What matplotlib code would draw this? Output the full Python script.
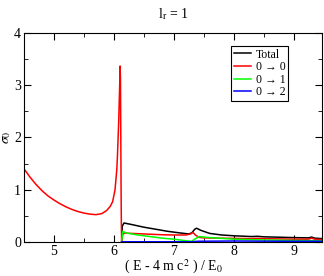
import matplotlib
matplotlib.use("Agg")
import matplotlib.pyplot as plt
from matplotlib.ticker import MultipleLocator

plt.rcParams['font.family'] = ['Liberation Serif', 'DejaVu Serif']
plt.rcParams['mathtext.fontset'] = 'stix'

# 0 -> 0 channel (with resonance below threshold)
red_x = [4.5, 4.6, 4.7, 4.8, 4.9, 5.0, 5.1, 5.2, 5.3, 5.4, 5.5, 5.6, 5.7, 5.8,
         5.88, 5.94, 5.98, 6.02, 6.05, 6.06, 6.08, 6.095, 6.105, 6.11, 6.115,
         6.12, 6.125, 6.13, 6.14, 6.16, 6.2, 6.4, 6.6, 6.8, 7.0, 7.2, 7.28,
         7.32, 7.36, 7.42, 7.5, 7.7, 8.0, 8.3, 8.4, 8.5, 9.0, 9.25, 9.3, 9.35, 9.48]
red_y = [1.40, 1.24, 1.10, 0.98, 0.88, 0.80, 0.73, 0.67, 0.62, 0.58, 0.55, 0.53,
         0.52, 0.54, 0.60, 0.68, 0.77, 1.00, 1.40, 1.65, 2.28, 2.90, 3.37, 3.10,
         2.20, 1.10, 0.35, 0.0, 0.12, 0.16, 0.165, 0.155, 0.145, 0.135, 0.13,
         0.13, 0.15, 0.18, 0.13, 0.085, 0.075, 0.07, 0.065, 0.06, 0.065, 0.06,
         0.05, 0.05, 0.07, 0.05, 0.04]

# 0 -> 1 channel
green_x = [6.13, 6.15, 6.2, 6.4, 6.6, 6.8, 7.0, 7.2, 7.3, 7.35, 7.42, 7.6, 8.0, 8.5, 9.0, 9.48]
green_y = [0.0, 0.20, 0.17, 0.13, 0.10, 0.07, 0.05, 0.02, 0.01, 0.05, 0.10, 0.08, 0.05, 0.035, 0.025, 0.02]

# 0 -> 2 channel
blue_x = [6.13, 7.3, 7.4, 8.0, 8.5, 9.0, 9.48]
blue_y = [0.0, 0.0, 0.01, 0.015, 0.012, 0.01, 0.01]

# total
total_x = [6.13, 6.14, 6.17, 6.3, 6.5, 6.7, 6.9, 7.1, 7.25, 7.3, 7.35, 7.38, 7.45,
           7.6, 7.8, 8.0, 8.3, 8.4, 8.5, 9.0, 9.25, 9.3, 9.35, 9.48]
total_y = [0.0, 0.30, 0.36, 0.33, 0.28, 0.24, 0.20, 0.17, 0.15, 0.17, 0.24, 0.26, 0.22,
           0.16, 0.13, 0.115, 0.10, 0.105, 0.095, 0.08, 0.075, 0.09, 0.07, 0.06]

fig = plt.figure(figsize=(3.24, 2.76), dpi=100)
ax = fig.add_axes([0.074, 0.124, 0.921, 0.756])

ax.plot(total_x, total_y, color='black', lw=1.1, label='Total')
ax.plot(red_x, red_y, color='#ff0000', lw=1.1, label='0 → 0')
ax.plot(green_x, green_y, color='#00ff00', lw=1.1, label='0 → 1')
ax.plot(blue_x, blue_y, color='#0000ff', lw=1.1, label='0 → 2')

ax.set_xlim(4.5, 9.48)
ax.set_ylim(0, 4)
ax.xaxis.set_major_locator(MultipleLocator(1))
ax.xaxis.set_minor_locator(MultipleLocator(0.5))
ax.yaxis.set_major_locator(MultipleLocator(1))
ax.yaxis.set_minor_locator(MultipleLocator(0.5))
ax.tick_params(which='both', direction='in', top=True, right=True, labelsize=10, pad=2)
ax.tick_params(which='major', length=5)
ax.tick_params(which='minor', length=3)

ax.set_title(r'l$_\mathrm{r}$ = 1', fontsize=10, pad=11)
ax.set_xlabel(r'( E - 4 m c$^2$ ) / E$_0$', fontsize=10, labelpad=0)
ax.set_ylabel(r'$\sigma_0$', fontsize=10)
ax.yaxis.set_label_coords(-0.036, 0.5)

leg = ax.legend(loc='upper right', bbox_to_anchor=(0.886, 0.94), fontsize=8.5,
                handlelength=1.4, handletextpad=0.4, borderpad=0.25,
                labelspacing=0.05, borderaxespad=0, fancybox=False, framealpha=1)
leg.get_frame().set_edgecolor('black')
leg.get_frame().set_linewidth(0.8)

fig.savefig('out.png', dpi=100)
